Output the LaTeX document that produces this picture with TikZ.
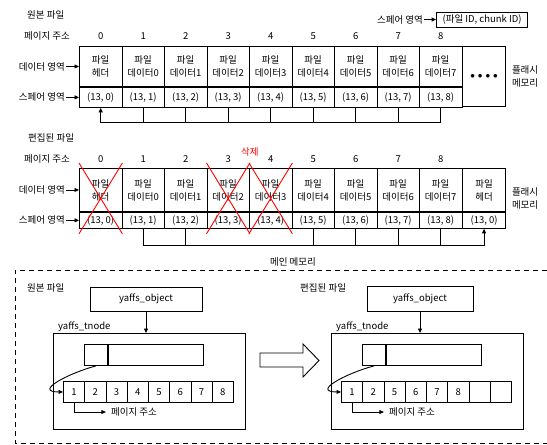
\documentclass[tikz,border=0pt]{standalone}
\usepackage{fontspec}
\setmainfont{Noto Sans CJK KR}
\usetikzlibrary{arrows.meta,positioning,calc}

\begin{document}
\begin{tikzpicture}[
    x=1pt, y=-1pt,
    font=\fontsize{9.5}{13}\selectfont,
    box/.style={draw, line width=0.9pt, inner sep=0pt, align=center},
    datacell/.style={box, minimum width=42.5pt, minimum height=40pt, anchor=north west},
    sparecell/.style={box, minimum width=42.5pt, minimum height=20pt, anchor=north west},
    slot/.style={box, minimum width=21.25pt, minimum height=21pt, anchor=north west},
    arrow/.style={-{Triangle[length=4.5pt, width=4pt]}, line width=0.9pt},
    wire/.style={line width=0.9pt},
    cross/.style={red, line width=0.9pt},
    label/.style={inner sep=1pt},
  ]
  \useasboundingbox (0,0) rectangle (547,445);

  % Flash memory: original file
  \node[label, anchor=west] (origT) at (26,15) {원본 파일};
  \node[label] (pgT) at (47,36) {페이지 주소};
  \foreach \i [evaluate=\i as \j using int(\i-1)] in {0,...,8} {
    \node[datacell] (dT\i) at (79+42.5*\i,46) {파일\\\ifnum\i=0 헤더\else 데이터\j\fi};
    \node[sparecell] (sT\i) at (dT\i.south west) {(13, \i)};
    \node[label] (nT\i) at (dT\i.north |- pgT) {\i};
  }
  \node[box, minimum width=42.5pt, minimum height=60pt, anchor=north west] (dotsT) at (dT8.north east)
    {$\bullet$\hspace{3pt}$\bullet$\hspace{3pt}$\bullet$\hspace{3pt}$\bullet$};
  \node[label, right=5pt of dotsT, align=left] (flashT) {플래시\\메모리};
  \node[label, left=13pt of dT0] (dlT) {데이터 영역};
  \node[label, left=13pt of sT0] (slT) {스페어 영역};
  \draw[arrow] (dlT) -- (dT0);
  \draw[arrow] (slT) -- (sT0);
  \node[box, minimum width=91pt, minimum height=15pt, anchor=east] (legend) at (528,19.5) {(파일 ID, chunk ID)};
  \node[label, left=12pt of legend] (legendlbl) {스페어 영역};
  \draw[arrow] (legendlbl) -- (legend);
  \draw[arrow] (sT8.south) -- ++(0,15) -| (sT0.south);
  \foreach \i in {1,...,7} \draw[wire] (sT\i.south) -- ++(0,15);

  % Flash memory: edited file
  \node[label, anchor=west] (editT) at (27,138) {편집된 파일};
  \node[label] (pgM) at (47,159) {페이지 주소};
  \foreach \i [evaluate=\i as \j using int(\i-1)] in {0,...,8} {
    \node[datacell, minimum height=43pt] (dM\i) at (79+42.5*\i,168) {파일\\\ifnum\i=0 헤더\else 데이터\j\fi};
    \node[sparecell, minimum height=16pt] (sM\i) at (dM\i.south west) {(13, \i)};
    \node[label] (nM\i) at (dM\i.north |- pgM) {\i};
  }
  \node[datacell, minimum height=43pt] (dM9) at (dM8.north east) {파일\\헤더};
  \node[sparecell, minimum height=16pt] (sM9) at (dM9.south west) {(13, 0)};
  \node[label, anchor=west, align=left] (flashM) at ([xshift=5pt]$(dM9.north east)!0.5!(sM9.south east)$) {플래시\\메모리};
  \node[label, left=13pt of dM0] (dlM) {데이터 영역};
  \node[label, left=13pt of sM0] (slM) {스페어 영역};
  \draw[arrow] (dlM) -- (dM0);
  \draw[arrow] (slM) -- (sM0);
  \foreach \i in {0,3,4}
    \draw[cross] ([yshift=5pt]dM\i.north west) -- ([yshift=-5pt]sM\i.south east)
                 ([yshift=5pt]dM\i.north east) -- ([yshift=-5pt]sM\i.south west);
  \node[label, text=red] (del) at ([yshift=16pt]dM3.north east) {삭제};
  \draw[arrow] (sM1.south) -- ++(0,17) -| (sM9.south);
  \foreach \i in {2,5,6,7,8} \draw[wire] (sM\i.south) -- ++(0,17);

  % Main memory
  \node[label] (mainmem) at (293,262) {메인 메모리};
  \draw[line width=0.9pt, dash pattern=on 5pt off 4pt] (547,270) -- (15,270) -- (15,443) -- (547,443);

  % original file in RAM
  \node[label, anchor=west] (origB) at (26,288) {원본 파일};
  \node[box, minimum width=112pt, minimum height=24pt] (objL) at (146,299) {yaffs\_object};
  \node[box, minimum width=192pt, minimum height=96pt, anchor=north west] (tnodeL) at (53,333) {};
  \node[label, anchor=south west] (tnlblL) at ([xshift=4pt]tnodeL.north west) {yaffs\_tnode};
  \draw[arrow] (objL.south) -- (objL.south |- tnodeL.north);
  \node[box, minimum width=23pt, minimum height=21pt, anchor=north west] (sqL) at ([shift={(31,11)}]tnodeL.north west) {};
  \node[box, minimum width=95pt, minimum height=21pt, anchor=west] (barL) at (sqL.east) {};
  \foreach \v [count=\k] in {1,...,8}
    \node[slot] (aL\k) at (63+21.25*\k-21.25,381) {\v};
  \draw[arrow] (sqL.south) to[out=195, in=180, looseness=1.8] (aL1.west);
  \node[label] (pgL) at (134,412) {페이지 주소};
  \draw[arrow, shorten >=4pt] (aL1.south) |- (pgL.west);

  % edited file in RAM
  \node[label, anchor=west] (editB) at (299,288) {편집된 파일};
  \node[box, minimum width=106pt, minimum height=25pt] (objR) at (420,299) {yaffs\_object};
  \node[box, minimum width=192pt, minimum height=96pt, anchor=north west] (tnodeR) at (331,333) {};
  \node[label, anchor=south west] (tnlblR) at ([xshift=4pt]tnodeR.north west) {yaffs\_tnode};
  \draw[arrow] (objR.south) -- (objR.south |- tnodeR.north);
  \node[box, minimum width=23pt, minimum height=21pt, anchor=north west] (sqR) at ([shift={(31,11)}]tnodeR.north west) {};
  \node[box, minimum width=95pt, minimum height=21pt, anchor=west] (barR) at (sqR.east) {};
  \foreach \v [count=\k] in {1,2,5,6,7,8,{},{}}
    \node[slot] (aR\k) at (341+21.25*\k-21.25,381) {\v};
  \draw[arrow] (sqR.south) to[out=195, in=180, looseness=1.8] (aR1.west);
  \node[label] (pgR) at (412,412) {페이지 주소};
  \draw[arrow, shorten >=4pt] (aR1.south) |- (pgR.west);

  % hollow arrow
  \draw[line width=0.9pt] (260,353) -- (303,353) -- (303,344) -- (319,360.5) -- (303,377) -- (303,367) -- (260,367) -- cycle;
\end{tikzpicture}
\end{document}
